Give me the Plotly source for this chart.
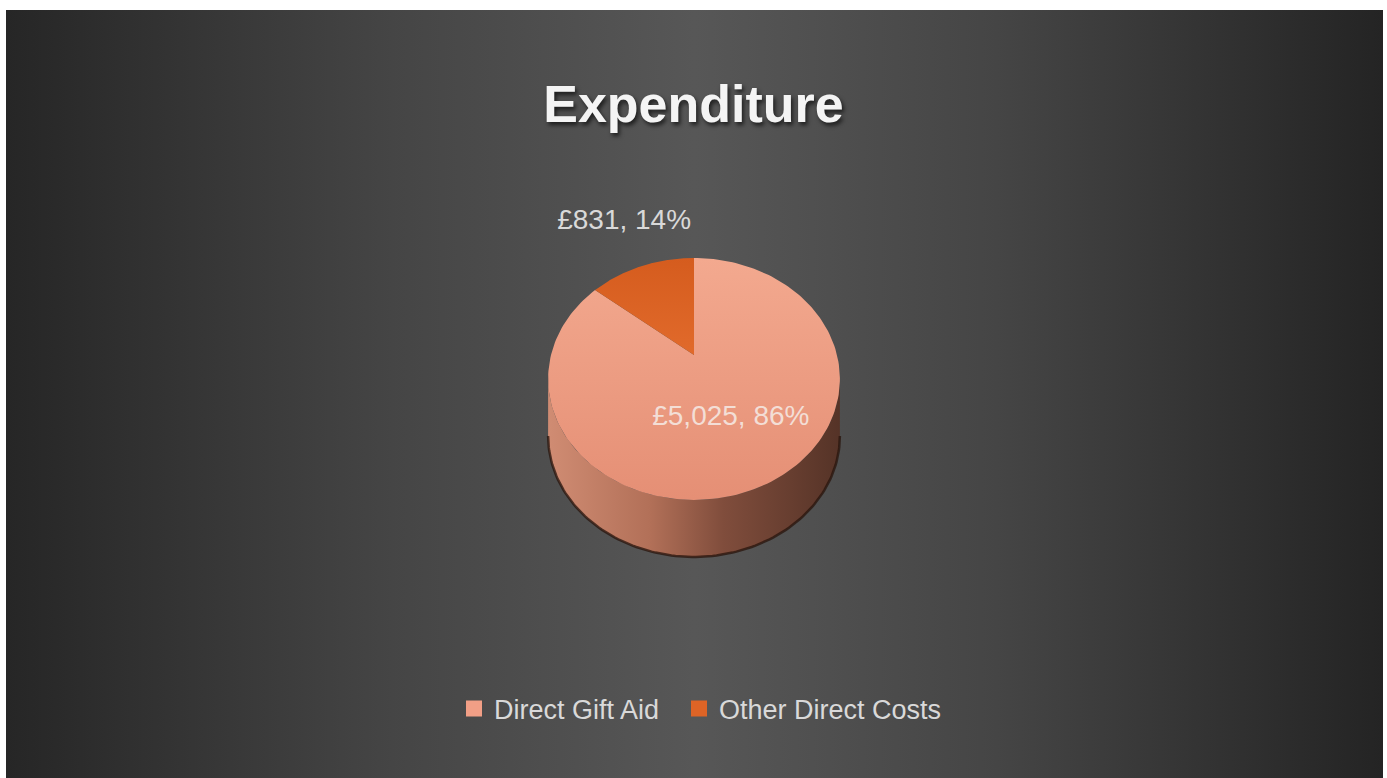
import numpy as np
import plotly.graph_objects as go

# ---- data ----
categories = ["Direct Gift Aid", "Other Direct Costs"]
values = [5025, 831]
top_colors = [["#f3a98f", "#e58f75"], ["#d55c1e", "#e16a2b"]]
legend_colors = ["#f29f86", "#de6426"]
title_text = "Expenditure"

W, H = 1387, 778
FONT = "Liberation Sans, Arial, sans-serif"

# ---- 3D pie projection (perspective view of a tilted disc) ----
cx, cy = 694.0, 355.0      # projected centre of the disc
sx, sy = 143.0, 116.2      # horizontal / vertical scale
k = 0.198                  # perspective strength
depth = 57.0               # thickness of the disc


def proj(theta_deg, r=1.0):
    t = np.radians(theta_deg)
    u = r * np.sin(t)
    v = r * np.cos(t)
    d = 1.0 + k * v
    return cx + sx * u / d, cy - sy * v / d


total = float(sum(values))
fracs = [v / total for v in values]
starts = np.concatenate([[0.0], np.cumsum(fracs)[:-1]]) * 360.0
ends = np.cumsum(fracs) * 360.0

fig = go.Figure()

# background gradient panel
fig.add_trace(go.Scatter(
    x=[6, 1383, 1383, 6, 6], y=[10, 10, H, H, 10], mode="lines",
    line=dict(width=0), fill="toself",
    fillgradient=dict(type="horizontal", colorscale=[
        [0.0, "#262626"], [0.28, "#454545"], [0.5, "#575757"],
        [0.72, "#454545"], [1.0, "#242424"]]),
    hoverinfo="skip", showlegend=False))

# side wall (visible front arc)
th_l = np.degrees(np.arccos(-k))          # right tangent
th_r = 360.0 - th_l                        # left tangent
for i, name in enumerate(categories):
    a0 = max(starts[i], th_l)
    a1 = min(ends[i], th_r)
    if a1 <= a0:
        continue
    th = np.linspace(a0, a1, 120)
    xt, yt = proj(th)
    xs = np.concatenate([xt, xt[::-1], xt[:1]])
    ys = np.concatenate([yt, (yt + depth)[::-1], yt[:1]])
    fig.add_trace(go.Scatter(
        x=xs, y=ys, mode="lines", line=dict(width=0), fill="toself",
        fillgradient=dict(type="horizontal", colorscale=[
            [0.0, "#d08c73"], [0.35, "#b27058"], [0.6, "#804d3c"],
            [1.0, "#553327"]]),
        hoverinfo="skip", showlegend=False))
    fig.add_trace(go.Scatter(
        x=xt, y=yt + depth, mode="lines",
        line=dict(color="rgba(40,20,12,0.75)", width=2.5),
        hoverinfo="skip", showlegend=False))

# top faces (gradient: lighter at the back/top of the screen)
for i, name in enumerate(categories):
    th = np.linspace(starts[i], ends[i], 200)
    xt, yt = proj(th)
    xs = np.concatenate([[cx], xt, [cx]])
    ys = np.concatenate([[cy], yt, [cy]])
    fig.add_trace(go.Scatter(
        x=xs, y=ys, mode="lines", line=dict(width=0), fill="toself",
        fillgradient=dict(type="vertical", colorscale=[
            [0.0, top_colors[i][1]], [1.0, top_colors[i][0]]]),
        name=name, hoverinfo="skip", showlegend=False))

# data labels
lab_r = [0.54, 1.42]
lab_pos = ["middle center", "top center"]
lab_col = ["#f3ded6", "#d9d9d9"]
for i, name in enumerate(categories):
    mid = (starts[i] + ends[i]) / 2.0
    lx, ly = proj(mid, lab_r[i])
    pct = round(fracs[i] * 100)
    fig.add_trace(go.Scatter(
        x=[lx], y=[ly], mode="text",
        text=[f"£{values[i]:,}, {pct}%"], textposition=lab_pos[i],
        textfont=dict(family=FONT, size=28, color=lab_col[i]),
        hoverinfo="skip", showlegend=False))

# legend entries (one legend box per entry for Excel-like spacing)
legend_ids = ["legend", "legend2"]
for i, name in enumerate(categories):
    fig.add_trace(go.Scatter(
        x=[None], y=[None], mode="markers", name=name,
        marker=dict(symbol="square", size=18, color=legend_colors[i]),
        legend=legend_ids[i], showlegend=True))

leg_common = dict(orientation="h", xanchor="left",
                  y=1 - 709 / H, yanchor="middle",
                  bgcolor="rgba(0,0,0,0)", itemwidth=30,
                  font=dict(family=FONT, size=27, color="#d9d9d9"))

fig.update_layout(
    width=W, height=H, autosize=False,
    margin=dict(l=0, r=0, t=0, b=0, pad=0),
    paper_bgcolor="white", plot_bgcolor="rgba(0,0,0,0)",
    xaxis=dict(range=[0, W], visible=False, fixedrange=True),
    yaxis=dict(range=[H, 0], visible=False, fixedrange=True),
    title=dict(text=title_text, x=0.5, xanchor="center",
               y=1 - 104 / H, yanchor="middle",
               font=dict(family=FONT, size=52, color="#f4f4f4", weight=700,
                         shadow="2px 3px 4px rgba(0,0,0,0.65)")),
    legend=dict(x=454 / W, **leg_common),
    legend2=dict(x=679 / W, **leg_common),
    showlegend=True,
)

fig.write_html("out.html",
               config={"displayModeBar": False},
               post_script="document.body.style.margin='0';"
                           "document.body.style.overflow='hidden';")
